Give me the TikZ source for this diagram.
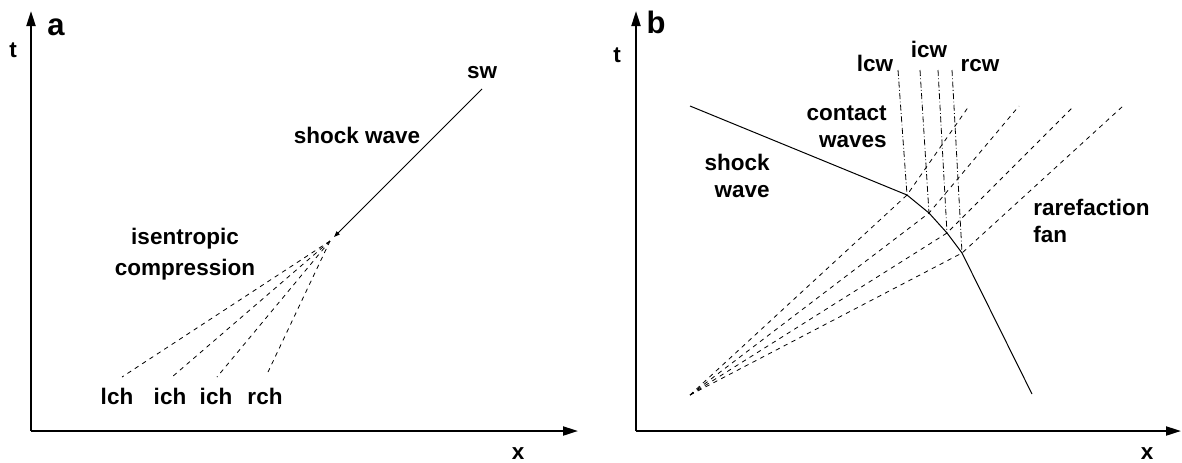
\documentclass[tikz,border=0pt]{standalone}
\usepackage{fontspec}
\setsansfont{Liberation Sans}
\usetikzlibrary{arrows.meta}

\begin{document}
\begin{tikzpicture}[x=0.5pt,y=-0.5pt,
            lbl/.style={font=\sffamily\bfseries\fontsize{11.25}{13.25}\selectfont, inner sep=0pt},
            panel/.style={font=\sffamily\bfseries\fontsize{15.5}{18}\selectfont, inner sep=0pt},
            axis/.style={line width=1pt, -{Triangle[length=7.5pt,width=4.5pt]}},
            fan/.style={line width=0.4pt, dash pattern=on 2.2pt off 2.2pt},
            contact/.style={line width=0.4pt, dash pattern=on 3pt off 1.2pt on 0.4pt off 1.2pt}]
            \useasboundingbox (0,0) rectangle (1182,462);
            % a
            \coordinate (oa) at (31,431);
            \coordinate (ta) at (31,11);
            \coordinate (xa) at (578,431);
            \draw[axis] (oa) -- (ta);
            \draw[axis] (oa) -- (xa);
            \node[panel, anchor=base] (pa) at (56,35) {a};
            \node[lbl, anchor=base] (lta) at (13,57) {t};
            \node[lbl, anchor=base] (lxa) at (518,459) {x};
            \coordinate (swa) at (482,89);
            \coordinate (ca) at (334,237);
            \coordinate (fa) at (330,241);
            \draw[line width=0.5pt, -{Triangle[length=3pt,width=2.2pt]}] (swa) -- (ca);
            \node[lbl, anchor=base] (sw) at (482,78) {sw};
            \node[lbl, anchor=base] (shka) at (357,143) {shock wave};
            \node[lbl, anchor=base, align=center, font=\sffamily\bfseries\fontsize{11.25}{15.5}\selectfont] (isc) at (185,275) {isentropic\\compression};
            \coordinate (e1) at (122,377);
            \coordinate (e2) at (172,377);
            \coordinate (e3) at (217,377);
            \coordinate (e4) at (268,372);
            \foreach \i in {1,...,4} \draw[fan] (fa) -- (e\i);
            \node[lbl, anchor=base] (lch) at (117,404) {lch};
            \node[lbl, anchor=base] (ich1) at (170,404) {ich};
            \node[lbl, anchor=base] (ich2) at (216,404) {ich};
            \node[lbl, anchor=base] (rch) at (265,404) {rch};
            % b
            \coordinate (ob) at (636,431);
            \coordinate (tb) at (636,11);
            \coordinate (xb) at (1181,431);
            \draw[axis] (ob) -- (tb);
            \draw[axis] (ob) -- (xb);
            \node[panel, anchor=base] (pb) at (656,33) {b};
            \node[lbl, anchor=base] (ltb) at (617,62) {t};
            \node[lbl, anchor=base] (lxb) at (1147,459) {x};
            \coordinate (fb) at (690,395);
            \coordinate (s0) at (690,106);
            \coordinate (k1) at (907,195);
            \coordinate (k2) at (929,213);
            \coordinate (k3) at (947,233);
            \coordinate (k4) at (962,253);
            \coordinate (s5) at (1032,394);
            \coordinate (u1) at (969,106);
            \coordinate (u2) at (1019,106);
            \coordinate (u3) at (1074,106);
            \coordinate (u4) at (1123,106);
            \coordinate (c1) at (898,70);
            \coordinate (c2) at (920,70);
            \coordinate (c3) at (938,70);
            \coordinate (c4) at (952,70);
            \draw[line width=0.5pt] (s0) -- (k1) -- (k2) -- (k3) -- (k4) -- (s5);
            \foreach \i in {1,...,4} {
                \draw[fan] (fb) -- (k\i) -- (u\i);
                \draw[contact] (c\i) -- (k\i);
            }
            \node[lbl, anchor=base] (lcw) at (875,71) {lcw};
            \node[lbl, anchor=base] (icw) at (929,57) {icw};
            \node[lbl, anchor=base] (rcw) at (980,71) {rcw};
            \node[lbl, anchor=base east, align=right] (shkb) at (770,197) {shock\\wave};
            \node[lbl, anchor=base east, align=right] (cwv) at (887,147) {contact\\waves};
            \node[lbl, anchor=base west, align=left] (rfan) at (1033,242) {rarefaction\\fan};
\end{tikzpicture}
\end{document}
